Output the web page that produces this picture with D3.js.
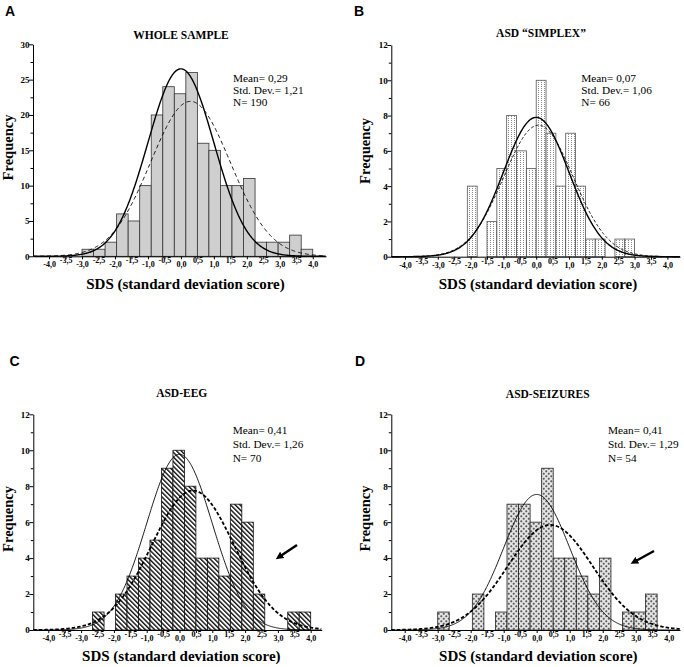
<!DOCTYPE html>
<html><head><meta charset="utf-8">
<script src="https://cdn.jsdelivr.net/npm/d3@7"></script>
<style>body{margin:0;background:#fff}svg{display:block}</style>
</head><body>
<svg id="chart" width="684" height="667"></svg>
<script>
// ---------- data ----------
const panelLetters = ["A", "B", "C", "D"];
const titles = ["WHOLE SAMPLE", "ASD \u201CSIMPLEX\u201D", "ASD-EEG", "ASD-SEIZURES"];
const xTickValues = [-4, -3.5, -3, -2.5, -2, -1.5, -1, -0.5, 0, 0.5, 1, 1.5, 2, 2.5, 3, 3.5, 4];
const countsA = [1, 1, 2, 6, 5, 10, 20, 24, 23, 26, 16, 15, 10, 10, 11, 2, 2, 2, 3, 1];
const countsB = [4, 0, 2, 5, 8, 6, 5, 10, 7, 4, 7, 4, 1, 1, 0, 1, 1];
const countsC = [1, 0, 2, 3, 4, 5, 9, 10, 8, 4, 4, 3, 7, 6, 2, 0, 0, 1, 1];
const countsD = [1, 0, 0, 2, 0, 1, 7, 7, 6, 9, 4, 4, 3, 2, 4, 0, 1, 1, 2];
const binStarts = [-3.0, -2.1, -2.65, -3.0];
const binWidths = [0.35, 0.30, 0.35, 0.35];
const means = [0.29, 0.07, 0.41, 0.41];
const stdDevs = [1.21, 1.06, 1.26, 1.29];
const sampleN = [190, 66, 70, 54];
const yMaxes = [30, 12, 12, 12];
const yMajorSteps = [5, 2, 2, 2];
const yMinorSteps = [2.5, 1, 1, 1];
const hasArrow = [false, false, true, true];
const allCounts = [countsA, countsB, countsC, countsD];

// ---------- layout (pixels) ----------
const layout = [
  {axisX: 33, zeroX: 180.9, ppu: 32.96, right: 326, base: 256.3, top: 44.3,
   letter: [5, 15.5], title: [181, 38.5], stats: [233, 82, 11.8], freq: [12.5, 147.5], sds: [185.5, 288.5],
   solidW: 1.4, dashW: 0.9, dash: "4,3", fill: "#cfcfcf", stroke: "#333", arrow: null},
  {axisX: 391.3, zeroX: 536.2, ppu: 32.8, right: 680, base: 256.7, top: 45,
   letter: [354, 15.5], title: [541, 37], stats: [581.3, 81.5, 12.2], freq: [370, 151], sds: [538, 288.5],
   solidW: 1.4, dashW: 0.9, dash: "3,2", fill: "url(#patB)", stroke: "#555", arrow: null},
  {axisX: 33.3, zeroX: 179.5, ppu: 32.8, right: 321.7, base: 630, top: 414.3,
   letter: [9.5, 365.5], title: [181.7, 396.5], stats: [232.7, 434, 14.2], freq: [12.5, 519], sds: [181.3, 660.5],
   solidW: 0.9, dashW: 1.8, dash: "3.5,2", fill: "url(#patC)", stroke: "#111", arrow: [297, 545, 279, 557]},
  {axisX: 391.3, zeroX: 536.7, ppu: 33, right: 680, base: 630, top: 414.3,
   letter: [355, 365.5], title: [547.7, 397.5], stats: [608, 434, 14.2], freq: [370, 518.5], sds: [538.3, 660.5],
   solidW: 0.9, dashW: 1.8, dash: "3.5,2", fill: "url(#patD)", stroke: "#222", arrow: [654, 551, 634, 562]}
];

const serif = "'Liberation Serif','Times New Roman',serif";
const sans = "'Liberation Sans',Arial,sans-serif";
const svg = d3.select("#chart");
const defs = svg.append("defs");

// patterns
const pB = defs.append("pattern").attr("id", "patB").attr("patternUnits", "userSpaceOnUse")
  .attr("width", 3).attr("height", 2);
pB.append("rect").attr("width", 3).attr("height", 2).attr("fill", "#fff");
pB.append("rect").attr("x", 1).attr("y", 0).attr("width", 1).attr("height", 1).attr("fill", "#8a8a8a");

const pC = defs.append("pattern").attr("id", "patC").attr("patternUnits", "userSpaceOnUse")
  .attr("width", 3.3).attr("height", 10).attr("patternTransform", "rotate(-45)");
pC.append("rect").attr("width", 3.3).attr("height", 10).attr("fill", "#fff");
pC.append("rect").attr("x", 0).attr("y", 0).attr("width", 1.4).attr("height", 10).attr("fill", "#111");

const pD = defs.append("pattern").attr("id", "patD").attr("patternUnits", "userSpaceOnUse")
  .attr("width", 5).attr("height", 5);
pD.append("rect").attr("width", 5).attr("height", 5).attr("fill", "#e4e4e4");
[[1.25, 1.25], [3.75, 3.75]].forEach(([cx, cy]) => {
  pD.append("path").attr("d", `M${cx - 1.1},${cy}H${cx + 1.1}M${cx},${cy - 1.1}V${cy + 1.1}`)
    .attr("stroke", "#444").attr("stroke-width", 0.8);
});

defs.append("marker").attr("id", "arrowHead").attr("viewBox", "0 0 10 10")
  .attr("refX", 5).attr("refY", 5).attr("markerWidth", 3.2).attr("markerHeight", 3.2)
  .attr("orient", "auto").attr("markerUnits", "strokeWidth")
  .append("path").attr("d", "M0,0L10,5L0,10z").attr("fill", "#000");

const fmt1 = d => d3.format(".1f")(d).replace(".", ",").replace("\u2212", "-");
const fmt2 = d => d3.format(".2f")(d).replace(".", ",").replace("\u2212", "-");
const phi = z => Math.exp(-0.5 * z * z) / Math.sqrt(2 * Math.PI);

allCounts.forEach((counts, i) => {
  const L = layout[i];
  const g = svg.append("g");
  const x = d3.scaleLinear()
    .domain([(L.axisX - L.zeroX) / L.ppu, (L.right - L.zeroX) / L.ppu])
    .range([L.axisX, L.right]);
  const y = d3.scaleLinear().domain([0, yMaxes[i]]).range([L.base, L.top]);
  const w = binWidths[i];

  // bars
  g.selectAll("rect.bar").data(counts.map((c, k) => ({c, x0: binStarts[i] + k * w})))
    .join("rect").attr("class", "bar")
    .filter(d => d.c > 0)
    .attr("x", d => x(d.x0)).attr("width", d => x(d.x0 + w) - x(d.x0))
    .attr("y", d => y(d.c)).attr("height", d => y(0) - y(d.c))
    .attr("fill", L.fill).attr("stroke", L.stroke).attr("stroke-width", 0.8);

  // normal curves
  const xs = d3.range(x.domain()[0], x.domain()[1] + 0.001, 0.02);
  const scale = sampleN[i] * w;
  const line = d3.line().x(d => x(d[0])).y(d => y(d[1]));
  g.append("path").datum(xs.map(v => [v, scale * phi(v)]))
    .attr("d", line).attr("fill", "none").attr("stroke", "#000").attr("stroke-width", L.solidW);
  g.append("path").datum(xs.map(v => [v, scale * phi((v - means[i]) / stdDevs[i]) / stdDevs[i]]))
    .attr("d", line).attr("fill", "none").attr("stroke", "#000")
    .attr("stroke-width", L.dashW).attr("stroke-dasharray", L.dash);

  // y axis
  const majors = d3.range(0, yMaxes[i] + 0.001, yMajorSteps[i]);
  const minors = d3.range(0, yMaxes[i] + 0.001, yMinorSteps[i]).filter(v => !majors.includes(v));
  const yAx = g.append("g").attr("transform", `translate(${L.axisX},0)`)
    .call(d3.axisLeft(y).tickValues(majors).tickSize(4).tickSizeOuter(0).tickFormat(d3.format("d")));
  yAx.select(".domain").attr("stroke", "#000").attr("stroke-width", 1);
  yAx.selectAll(".tick line").attr("stroke", "#000");
  yAx.selectAll(".tick text").attr("font-family", serif).attr("font-weight", "bold")
    .attr("font-size", 9).attr("fill", "#000").attr("x", -3.5);
  g.append("g").attr("transform", `translate(${L.axisX},0)`)
    .call(d3.axisLeft(y).tickValues(minors).tickSize(2.5).tickFormat(""))
    .call(a => a.select(".domain").remove())
    .selectAll("line").attr("stroke", "#000");

  // x axis
  const xAx = g.append("g").attr("transform", `translate(0,${L.base})`)
    .call(d3.axisBottom(x).tickValues(xTickValues).tickSize(3).tickSizeOuter(0).tickFormat(fmt1));
  xAx.select(".domain").attr("stroke", "#000").attr("stroke-width", 1);
  xAx.selectAll(".tick line").attr("stroke", "#000");
  xAx.selectAll(".tick text").attr("font-family", serif).attr("font-weight", "bold")
    .attr("font-size", 8).attr("fill", "#000")
    .attr("y", d => (Math.abs(d % 1) > 0.01 ? 1.5 : 5.5));

  // texts
  svg.append("text").attr("x", L.letter[0]).attr("y", L.letter[1]).text(panelLetters[i])
    .attr("font-family", sans).attr("font-weight", "bold").attr("font-size", 14);
  svg.append("text").attr("x", L.title[0]).attr("y", L.title[1]).text(titles[i])
    .attr("text-anchor", "middle").attr("font-family", serif).attr("font-weight", "bold").attr("font-size", 11.5);
  const statLines = ["Mean= " + fmt2(means[i]), "Std. Dev.= " + fmt2(stdDevs[i]), "N= " + sampleN[i]];
  statLines.forEach((s, k) => svg.append("text").attr("x", L.stats[0]).attr("y", L.stats[1] + k * L.stats[2])
    .text(s).attr("font-family", serif).attr("font-size", 11.3));
  svg.append("text").attr("transform", `translate(${L.freq[0]},${L.freq[1]}) rotate(-90)`)
    .attr("text-anchor", "middle").text("Frequency")
    .attr("font-family", serif).attr("font-weight", "bold").attr("font-size", 14.5);
  svg.append("text").attr("x", L.sds[0]).attr("y", L.sds[1]).attr("text-anchor", "middle")
    .text("SDS (standard deviation score)")
    .attr("font-family", serif).attr("font-weight", "bold").attr("font-size", 15);

  if (hasArrow[i] && L.arrow) {
    svg.append("line").attr("x1", L.arrow[0]).attr("y1", L.arrow[1])
      .attr("x2", L.arrow[2]).attr("y2", L.arrow[3])
      .attr("stroke", "#000").attr("stroke-width", 2.4).attr("marker-end", "url(#arrowHead)");
  }
});
</script>
</body></html>
